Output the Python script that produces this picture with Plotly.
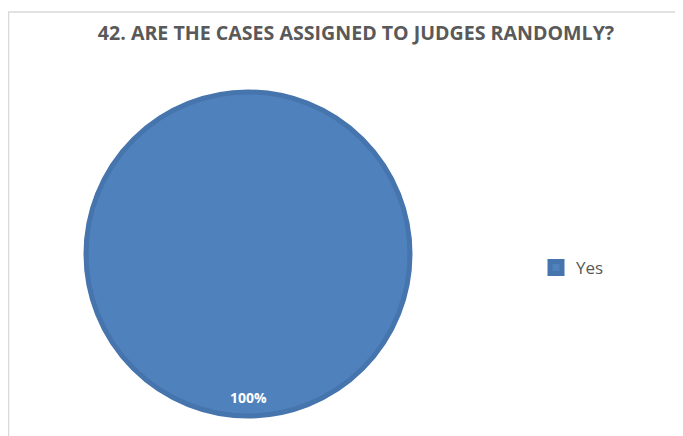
import plotly.graph_objects as go

labels = ["Yes"]
values = [100]
title_text = "42. ARE THE CASES ASSIGNED TO JUDGES RANDOMLY?"

W, H = 683, 436
OFF = 8  # page body margin offset
cx, cy, r = 248 - OFF, 254 - OFF, 162

total = sum(values)
pct_text = f"{round(values[0] / total * 100)}%"

fig = go.Figure(go.Pie(
    labels=labels,
    values=values,
    sort=False,
    textinfo="none",
    marker=dict(colors=["#4f81bd"], line=dict(color="#4674ad", width=5)),
    domain=dict(x=[(cx - r) / W, (cx + r) / W], y=[(H - cy - r) / H, (H - cy + r) / H]),
    hoverinfo="label+percent",
))

fig.add_annotation(
    text=f"<b>{pct_text}</b>", x=cx / W, y=(H - (409 - OFF)) / H, xref="paper", yref="paper",
    showarrow=False, font=dict(family="Open Sans", size=14, color="white"),
)

fig.add_shape(type="rect", xref="paper", yref="paper",
              x0=0.5 / W, x1=1.05, y0=-0.05, y1=(H - (12 - OFF)) / H,
              line=dict(color="#d9d9d9", width=1.5), fillcolor="rgba(0,0,0,0)")

fig.update_layout(
    width=W, height=H,
    margin=dict(l=0, r=0, t=0, b=0),
    paper_bgcolor="white",
    title=dict(text=f"<b>{title_text}</b>", x=(356 - OFF) / W, xanchor="center",
               y=(H - (33 - OFF)) / H, yanchor="middle",
               font=dict(family="Open Sans", size=19.6, color="#595959")),
    legend=dict(x=(536 - OFF) / W, y=(H - (268 - OFF)) / H, yanchor="middle", xanchor="left",
                font=dict(family="Open Sans", size=17, color="#595959"),
                itemwidth=30),
    showlegend=True,
)

fig.write_html("out.html")
